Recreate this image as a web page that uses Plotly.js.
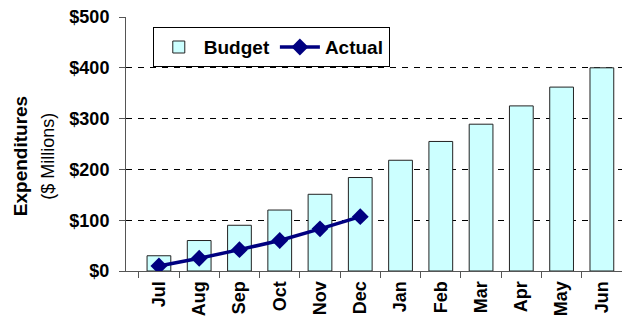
<!DOCTYPE html>
<html><head><meta charset="utf-8">
<script src="https://cdn.plot.ly/plotly-3.0.1.min.js"></script>
<style>html,body{margin:0;padding:0;background:#fff}</style>
</head><body><div id="chart" style="width:622px;height:323px"></div>
<script>
var months = ["Jul","Aug","Sep","Oct","Nov","Dec","Jan","Feb","Mar","Apr","May","Jun"];
var budget = [30, 60, 90, 120, 151, 184, 218, 255, 289, 325, 362, 400];
var actualMonths = ["Jul","Aug","Sep","Oct","Nov","Dec"];
var actual = [10, 25, 42, 60, 83, 107];
var yTickVals = [0, 100, 200, 300, 400, 500];
var yTickText = ["$0","$100","$200","$300","$400","$500"];

var FONT = "Arial, Liberation Sans, sans-serif";
var traces = [
  {type:"bar", name:"Budget", x:months, y:budget,
   marker:{color:"#CCFFFF", line:{color:"#222", width:1}}},
  {type:"scatter", mode:"lines+markers", name:"Actual", x:actualMonths, y:actual,
   line:{color:"#000080", width:3.5}, marker:{symbol:"diamond", size:13, color:"#000080"}}
];
var layout = {
  width:622, height:323,
  margin:{l:126, r:0, t:17, b:52},
  paper_bgcolor:"#fff", plot_bgcolor:"#fff",
  font:{family:FONT, color:"#000"},
  bargap:0.41,
  showlegend:true,
  legend:{orientation:"h", x:0.054, y:0.96, xanchor:"left", yanchor:"top",
    bordercolor:"#000", borderwidth:1, bgcolor:"#fff", itemwidth:40,
    font:{size:19, family:FONT, weight:"bold"}},
  xaxis:{type:"category", categoryorder:"array", categoryarray:months,
    tickangle:-90, ticks:"outside", tickson:"boundaries", ticklen:6, tickcolor:"#555",
    showline:true, linecolor:"#555", linewidth:1, showgrid:false,
    tickfont:{size:18, weight:"bold"}, ticklabelstandoff:2},
  yaxis:{range:[0,500], tickvals:yTickVals, ticktext:yTickText,
    ticks:"outside", ticklen:6, tickcolor:"#555", showline:true, linecolor:"#555", linewidth:1,
    showgrid:true, gridcolor:"#000", griddash:"6px,6px", gridwidth:1, zeroline:false,
    tickfont:{size:18, weight:"bold"}, ticklabelstandoff:6},
  annotations:[
    {xref:"paper", yref:"paper", x:0, y:0.45, xshift:-118, textangle:-90, showarrow:false,
     text:"Expenditures", font:{size:19, weight:"bold"}},
    {xref:"paper", yref:"paper", x:0, y:0.45, xshift:-90, textangle:-90, showarrow:false,
     text:"($ Millions)", font:{size:18}}
  ]
};
Plotly.newPlot("chart", traces, layout, {displayModeBar:false, staticPlot:true});
</script></body></html>
